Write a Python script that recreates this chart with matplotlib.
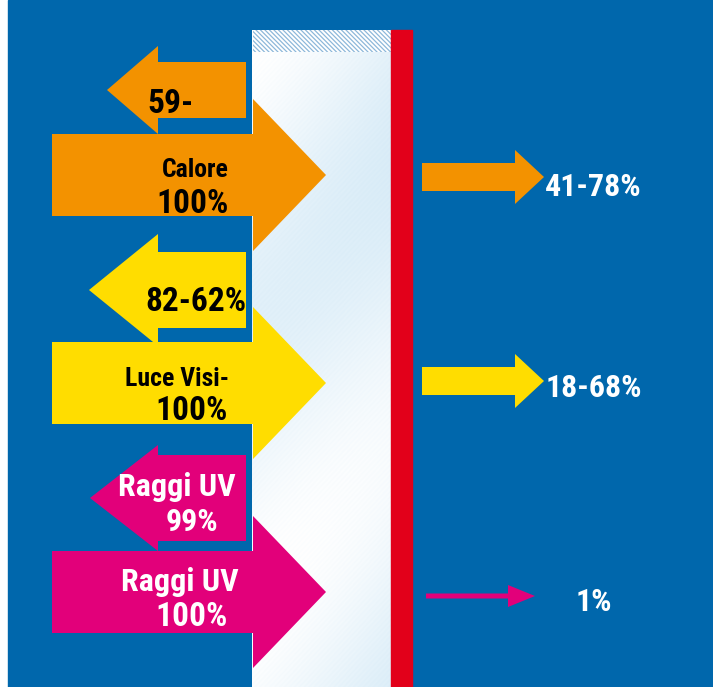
import numpy as np
import matplotlib
matplotlib.use("Agg")
import matplotlib.pyplot as plt
from matplotlib.patches import Polygon, Rectangle

# ---- data ----
categories = ["Calore", "Luce Visi-", "Raggi UV"]
incoming_labels = ["Calore\n100%", "Luce Visi-\n100%", "Raggi UV\n100%"]
reflected_labels = ["59-", "82-62%", "Raggi UV\n99%"]
transmitted_labels = ["41-78%", "18-68%", "1%"]
colors = ["#F39200", "#FFDD00", "#E2007A"]
text_colors = ["black", "black", "white"]

BLUE = "#0067AC"
RED = "#E2001A"
FONT = ["Roboto Condensed", "Roboto", "DejaVu Sans"]

fig = plt.figure(figsize=(7.13, 6.87), dpi=100)
ax = fig.add_axes([0, 0, 1, 1])
ax.set_xlim(0, 713)
ax.set_ylim(687, 0)
ax.axis("off")

# background
ax.add_patch(Rectangle((0, 0), 713, 687, color="white", zorder=0))
ax.add_patch(Rectangle((8, 0), 705, 687, color=BLUE, zorder=1))

# glass gradient
gx0, gx1, gy0, gy1 = 253, 391, 30, 687
W, H = gx1 - gx0, gy1 - gy0
yy, xx = np.mgrid[0:H, 0:W].astype(float)
diag = (xx + 0.9 * yy)
t = 0.6 + 0.4 * np.cos(diag / 260.0 * np.pi)
t -= 0.2 * (xx / W) ** 1.5
t += 0.05 * np.sin(diag * 1.3)
t = np.clip(t, 0, 1)
c_light = np.array([0.85, 0.925, 0.97])
c_white = np.array([1.0, 1.0, 1.0])
img = c_light * (1 - t[..., None]) + c_white * t[..., None]
ax.imshow(img, extent=(gx0 - 1, gx1 + 2, gy1, gy0), aspect="auto", zorder=2,
          interpolation="bilinear")

# hatched strip at top of glass
strip = Rectangle((gx0, gy0), gx1 - gx0, 22, facecolor="white", edgecolor="none", zorder=3)
ax.add_patch(strip)
for k in np.arange(-24, 142, 4.5):
    ln, = ax.plot([gx0 + k, gx0 + k + 22], [gy0, gy0 + 22], color="#8DB8DA", lw=0.9, zorder=3.5)
    ln.set_clip_path(strip)

# red bar
ax.add_patch(Rectangle((391, 30), 21, 657, color=RED, zorder=4))


def arrow(x_tail, x_base, x_tip, yc, bh, hh, color, z=5):
    pts = [(x_tail, yc - bh), (x_base, yc - bh), (x_base, yc - hh), (x_tip, yc),
           (x_base, yc + hh), (x_base, yc + bh), (x_tail, yc + bh)]
    ax.add_patch(Polygon(pts, closed=True, facecolor=color, edgecolor="none", zorder=z))


# layout (pixel positions)
refl_y = [90, 290, 498]
refl_bh = [28, 38, 43]
refl_hh = [44, 56, 53]
refl_tip = [107, 89, 90]
in_y = [175, 383, 592]
out_y = [177, 381, 596]

for i in range(3):
    arrow(246, 158, refl_tip[i], refl_y[i], refl_bh[i], refl_hh[i], colors[i], z=5)
    arrow(52, 253, 326, in_y[i], 41, 76, colors[i], z=6)
    if i < 2:
        arrow(422, 515, 544, out_y[i], 14, 27, colors[i], z=5)
    else:
        arrow(426, 508, 535, out_y[i], 2.5, 11, colors[i], z=5)

# texts
tc = text_colors
kw = dict(fontweight=900, family=FONT, zorder=7, va="center")
ax.text(147, 104, reflected_labels[0], ha="left", fontsize=24, color=tc[0], **kw)
ax.text(196, 302, reflected_labels[1], ha="center", fontsize=24, color=tc[1], **kw)
r1, r2 = reflected_labels[2].split("\n")
ax.text(177, 487, r1, ha="center", fontsize=23, color=tc[2], **kw)
ax.text(192, 522, r2, ha="center", fontsize=23, color=tc[2], **kw)

in_pos = [((195, 170, 18.5), (193, 204, 24)),
          ((177, 379, 18.5), (192, 411, 24)),
          ((180, 582, 23), (192, 617, 24))]
for i in range(3):
    l1, l2 = incoming_labels[i].split("\n")
    (x1, y1, f1), (x2, y2, f2) = in_pos[i]
    ax.text(x1, y1, l1, ha="center", fontsize=f1, color=tc[i], **kw)
    ax.text(x2, y2, l2, ha="center", fontsize=f2, color=tc[i], **kw)

out_pos = [(593, 187), (594, 388), (594, 602)]
for i in range(3):
    ax.text(out_pos[i][0], out_pos[i][1], transmitted_labels[i], ha="center",
            fontsize=23, color="white", **kw)

fig.savefig("out.png", dpi=100)
